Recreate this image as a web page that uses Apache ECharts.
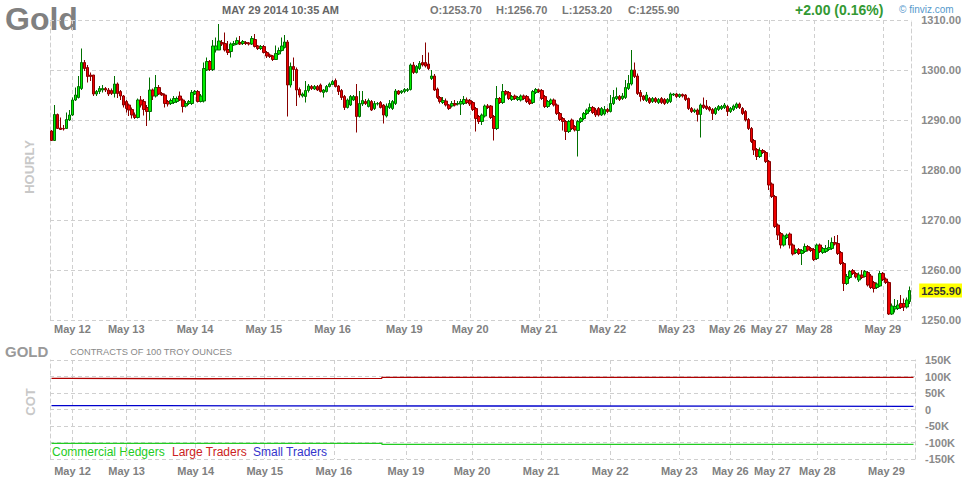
<!DOCTYPE html>
<html><head><meta charset="utf-8">
<script src="https://cdn.jsdelivr.net/npm/echarts@6/dist/echarts.min.js"></script>
<style>html,body{margin:0;padding:0;background:#fff}#c{width:964px;height:480px}</style>
</head><body><div id="c"></div>
<script>
// ---- data ----
const dayLabels = ['May 12','May 13','May 14','May 15','May 16','May 19','May 20','May 21','May 22','May 23','May 26','May 27','May 28','May 29'];
const dayIndex  = [7,25,48,71,94,118,140,163,186,209,226,240,255,278];
const priceAxis = {min:1250, max:1310, step:10};
const cotAxis = {min:-150, max:150, step:50};
// hourly candles: [open, close, low, high]
const ohlc = [
[1287.8,1285.9,1285.8,1288.0],[1285.9,1291.1,1285.9,1293.0],[1291.1,1288.3,1288.2,1291.3],[1288.4,1288.1,1288.0,1290.5],[1288.3,1288.2,1287.9,1289.0],[1288.3,1290.1,1288.2,1291.5],[1290.0,1291.0,1289.8,1292.0],[1291.0,1294.0,1290.8,1294.5],[1294.0,1295.0,1293.8,1296.5],[1294.5,1296.7,1294.3,1298.8],
[1296.3,1301.5,1296.0,1304.3],[1301.5,1300.3,1299.8,1302.0],[1300.5,1298.7,1297.5,1301.0],[1299.0,1298.7,1297.8,1299.5],[1299.0,1295.2,1294.8,1299.0],[1295.2,1295.7,1294.8,1296.0],[1295.7,1296.3,1295.2,1296.8],[1296.0,1296.3,1295.5,1297.0],[1296.3,1296.0,1295.6,1296.6],[1296.0,1295.2,1294.8,1296.4],
[1295.9,1295.3,1295.0,1296.3],[1295.3,1297.2,1294.5,1298.8],[1297.2,1295.3,1294.4,1297.5],[1295.7,1294.8,1294.0,1296.0],[1294.8,1293.0,1292.5,1295.0],[1293.7,1292.3,1291.5,1294.0],[1293.0,1292.0,1290.8,1293.3],[1292.1,1291.0,1290.3,1292.5],[1291.0,1290.5,1290.2,1291.5],[1290.5,1294.0,1290.3,1294.3],
[1294.0,1293.0,1292.5,1294.8],[1293.7,1292.1,1290.9,1294.2],[1292.5,1291.7,1288.8,1293.0],[1291.7,1296.0,1289.9,1298.5],[1296.0,1294.8,1294.0,1296.3],[1294.8,1296.5,1294.5,1299.0],[1296.5,1295.2,1295.0,1297.0],[1295.3,1295.0,1294.8,1295.6],[1295.0,1293.3,1292.5,1295.3],[1293.7,1293.2,1292.7,1294.0],
[1293.3,1293.9,1293.0,1294.3],[1293.5,1294.3,1293.2,1294.8],[1293.7,1294.3,1293.4,1294.7],[1294.8,1294.0,1293.8,1295.7],[1294.0,1292.7,1291.5,1294.3],[1292.8,1293.3,1292.5,1293.8],[1293.3,1293.7,1293.0,1294.0],[1293.3,1295.5,1293.0,1296.0],[1295.2,1295.7,1295.0,1296.0],[1295.7,1293.7,1293.5,1296.0],
[1293.7,1294.8,1293.5,1295.2],[1293.8,1300.3,1293.5,1301.5],[1300.0,1301.7,1299.8,1302.5],[1301.7,1300.1,1299.8,1302.0],[1300.1,1304.8,1299.8,1306.0],[1304.0,1304.8,1303.5,1306.5],[1304.0,1305.8,1304.0,1309.2],[1305.5,1305.2,1304.8,1306.0],[1305.3,1304.0,1303.7,1307.5],[1304.1,1303.5,1303.0,1305.8],
[1303.7,1305.2,1302.5,1305.5],[1305.0,1305.3,1304.8,1305.8],[1305.2,1305.9,1305.0,1306.5],[1305.5,1305.2,1305.0,1306.8],[1305.3,1305.7,1305.0,1306.0],[1305.5,1305.3,1305.0,1305.8],[1305.4,1305.2,1304.9,1305.6],[1305.2,1306.3,1305.0,1306.8],[1306.1,1304.7,1304.5,1307.2],[1304.8,1304.3,1304.0,1305.0],
[1304.3,1304.7,1304.0,1305.0],[1304.7,1303.5,1303.3,1305.0],[1303.5,1302.8,1302.4,1303.8],[1303.0,1302.7,1302.4,1303.3],[1302.8,1302.1,1301.8,1303.0],[1302.1,1303.3,1302.0,1304.9],[1303.2,1303.9,1303.0,1304.5],[1303.9,1304.8,1303.7,1306.5],[1304.5,1305.6,1304.3,1307.0],[1305.6,1297.0,1290.7,1306.0],
[1297.0,1300.7,1296.5,1301.5],[1300.7,1300.1,1297.8,1302.5],[1300.1,1296.0,1292.8,1300.5],[1296.1,1295.0,1294.5,1296.5],[1294.8,1295.2,1294.5,1295.5],[1294.7,1295.9,1293.5,1297.8],[1295.9,1296.8,1295.5,1297.2],[1296.7,1296.3,1296.0,1297.0],[1296.2,1296.7,1296.0,1297.0],[1296.7,1296.0,1295.8,1297.0],
[1297.0,1295.7,1295.5,1297.3],[1295.5,1296.0,1294.5,1296.2],[1295.7,1296.7,1295.5,1297.0],[1296.7,1297.2,1296.5,1297.5],[1297.1,1297.7,1297.0,1298.0],[1297.9,1296.7,1296.5,1298.3],[1296.8,1295.7,1295.0,1297.0],[1295.9,1294.5,1294.0,1296.2],[1294.7,1292.5,1292.0,1295.0],[1292.5,1294.0,1292.3,1294.3],
[1293.0,1294.7,1292.8,1295.0],[1294.0,1294.7,1293.8,1295.0],[1294.7,1290.7,1287.5,1297.2],[1290.7,1293.3,1290.5,1295.8],[1293.2,1293.9,1292.8,1295.8],[1293.7,1293.3,1293.0,1294.2],[1292.7,1293.9,1292.5,1294.3],[1293.7,1292.0,1291.8,1294.0],[1292.3,1293.3,1292.0,1293.8],[1293.2,1293.3,1292.9,1293.6],
[1293.5,1292.5,1292.3,1293.8],[1293.0,1291.0,1289.3,1293.2],[1290.8,1292.8,1290.5,1293.3],[1292.5,1293.3,1292.2,1294.0],[1292.3,1293.7,1292.0,1294.0],[1293.3,1295.8,1293.0,1296.2],[1295.8,1295.2,1295.0,1296.0],[1295.5,1295.8,1295.2,1296.0],[1295.7,1296.1,1295.4,1296.4],[1295.9,1296.1,1295.6,1296.4],
[1296.1,1301.0,1295.9,1301.3],[1301.0,1299.5,1299.2,1301.6],[1299.5,1300.7,1299.3,1301.0],[1300.3,1301.3,1300.0,1301.8],[1301.5,1301.0,1300.7,1303.0],[1301.5,1300.8,1300.5,1305.5],[1301.2,1300.3,1300.0,1303.5],[1298.3,1298.8,1298.0,1300.0],[1298.8,1296.0,1295.8,1299.2],[1296.2,1294.5,1294.2,1296.5],
[1294.5,1293.7,1293.3,1294.8],[1293.5,1293.9,1293.2,1294.6],[1293.8,1293.0,1292.7,1294.3],[1293.0,1292.3,1292.0,1293.2],[1292.8,1293.3,1292.5,1293.8],[1293.3,1293.0,1292.7,1294.0],[1293.2,1293.3,1292.9,1293.8],[1293.2,1293.7,1291.0,1294.2],[1293.3,1294.1,1293.0,1294.8],[1294.0,1293.5,1293.2,1294.5],
[1293.9,1293.2,1292.8,1294.2],[1293.5,1292.1,1291.8,1293.8],[1292.3,1290.3,1287.7,1292.6],[1290.7,1289.7,1289.2,1291.0],[1289.7,1291.0,1289.0,1291.3],[1290.8,1292.8,1290.5,1293.1],[1292.8,1292.5,1292.2,1293.2],[1292.8,1290.5,1290.2,1293.0],[1290.7,1288.3,1285.9,1291.0],[1288.3,1294.3,1288.0,1296.8],
[1294.3,1293.5,1293.2,1294.6],[1293.5,1295.7,1293.2,1297.2],[1295.7,1295.2,1294.9,1296.0],[1295.5,1294.3,1294.0,1295.8],[1294.1,1294.7,1293.8,1295.0],[1294.8,1294.3,1294.0,1295.1],[1294.1,1294.5,1293.8,1294.8],[1294.0,1294.8,1293.7,1295.1],[1294.8,1294.3,1294.0,1295.1],[1294.7,1293.7,1293.4,1295.0],
[1294.0,1293.3,1293.0,1294.3],[1293.5,1295.7,1293.2,1296.0],[1295.5,1296.1,1295.2,1296.4],[1296.0,1295.7,1295.4,1296.3],[1295.9,1294.3,1294.0,1296.2],[1294.7,1292.7,1292.4,1295.0],[1292.7,1293.7,1292.4,1294.0],[1293.3,1294.0,1293.0,1294.3],[1294.0,1293.0,1292.7,1294.3],[1293.0,1291.3,1291.0,1293.3],
[1291.3,1290.1,1289.8,1291.6],[1290.3,1289.7,1287.9,1290.6],[1289.7,1287.7,1286.0,1290.0],[1287.7,1289.7,1287.4,1290.0],[1290.0,1288.3,1288.0,1290.3],[1288.7,1288.0,1287.7,1289.0],[1287.9,1289.7,1282.7,1290.0],[1289.7,1290.3,1289.4,1290.6],[1290.3,1291.3,1290.0,1291.6],[1291.3,1292.0,1291.0,1292.3],
[1291.9,1292.5,1291.6,1293.3],[1292.5,1291.5,1291.2,1292.8],[1292.0,1291.0,1290.6,1292.4],[1292.3,1291.0,1290.7,1292.6],[1291.0,1292.3,1290.8,1292.6],[1291.2,1292.1,1290.9,1292.8],[1292.1,1291.7,1291.4,1292.4],[1291.7,1293.3,1291.5,1295.0],[1293.3,1294.5,1293.0,1296.0],[1294.3,1294.7,1294.0,1296.5],
[1294.7,1294.1,1293.8,1295.0],[1294.3,1294.8,1294.0,1295.4],[1294.5,1296.5,1294.2,1298.0],[1296.3,1297.3,1296.0,1299.0],[1297.2,1300.0,1296.9,1304.0],[1300.0,1298.7,1298.4,1301.5],[1298.8,1295.3,1295.0,1299.3],[1295.5,1294.7,1293.7,1296.0],[1294.8,1294.1,1293.8,1295.0],[1293.9,1295.0,1293.6,1295.6],
[1294.3,1293.5,1293.2,1294.6],[1293.7,1294.3,1293.4,1294.6],[1294.3,1293.7,1293.4,1294.6],[1293.5,1294.1,1293.2,1294.4],[1294.3,1293.5,1293.2,1294.6],[1294.1,1293.3,1293.0,1294.4],[1293.5,1294.1,1293.2,1294.4],[1293.7,1295.2,1293.4,1295.5],[1295.0,1295.2,1294.8,1295.4],[1295.2,1294.7,1294.4,1295.4],
[1294.7,1295.1,1294.4,1295.3],[1295.1,1294.8,1294.5,1295.3],[1295.0,1294.1,1293.8,1295.2],[1294.3,1292.3,1292.0,1294.5],[1292.3,1291.7,1291.4,1292.6],[1291.7,1292.0,1291.4,1292.3],[1292.0,1291.1,1289.7,1292.3],[1291.1,1293.0,1286.5,1293.3],[1293.0,1292.5,1292.2,1294.5],[1292.8,1292.3,1292.0,1294.0],
[1292.5,1292.0,1291.7,1292.8],[1292.1,1291.3,1290.0,1292.4],[1291.3,1292.3,1291.0,1292.6],[1292.1,1292.7,1291.8,1293.0],[1292.3,1292.7,1292.0,1293.0],[1292.5,1293.0,1292.2,1293.4],[1292.7,1291.7,1290.8,1293.0],[1291.7,1292.3,1291.4,1292.6],[1292.1,1292.8,1291.8,1293.1],[1292.5,1293.2,1292.2,1293.5],
[1293.2,1292.5,1292.2,1293.5],[1292.3,1291.3,1291.0,1292.6],[1291.7,1290.0,1289.7,1292.0],[1290.1,1288.3,1288.0,1290.4],[1288.3,1285.7,1285.4,1288.6],[1285.9,1284.0,1283.0,1286.2],[1284.1,1282.7,1282.0,1284.4],[1282.7,1283.9,1282.4,1284.5],[1283.9,1283.5,1283.2,1284.2],[1283.5,1281.7,1281.4,1283.8],
[1281.7,1277.0,1276.0,1282.0],[1277.2,1274.7,1274.4,1277.5],[1274.7,1268.7,1268.4,1275.0],[1269.0,1267.0,1266.0,1269.3],[1267.3,1265.0,1264.3,1267.6],[1265.0,1266.8,1264.7,1267.1],[1266.5,1267.0,1266.2,1267.3],[1267.2,1265.0,1264.3,1267.5],[1265.0,1263.2,1262.9,1265.3],[1263.5,1264.0,1263.2,1264.3],
[1264.1,1263.3,1263.0,1264.4],[1263.3,1263.9,1261.0,1264.2],[1263.7,1264.7,1263.4,1265.3],[1264.7,1264.0,1263.7,1265.0],[1264.3,1263.9,1263.6,1264.6],[1264.1,1262.1,1261.8,1264.4],[1262.3,1265.0,1262.0,1265.3],[1265.0,1263.7,1263.4,1265.3],[1263.5,1264.3,1263.2,1264.6],[1263.7,1264.3,1263.4,1265.0],
[1264.1,1264.5,1263.8,1266.0],[1264.3,1265.5,1264.0,1266.5],[1265.5,1265.2,1264.9,1266.8],[1265.3,1263.3,1263.0,1267.0],[1263.5,1261.3,1261.0,1263.8],[1261.3,1257.3,1255.8,1261.6],[1257.3,1258.7,1257.0,1259.2],[1258.5,1259.7,1258.2,1260.0],[1259.9,1259.3,1259.0,1260.2],[1259.3,1258.6,1258.3,1259.6],
[1258.0,1259.0,1257.6,1259.5],[1259.0,1258.5,1258.2,1260.0],[1258.7,1259.7,1258.5,1260.0],[1259.5,1257.0,1256.7,1259.8],[1258.8,1256.5,1256.2,1259.2],[1257.5,1256.3,1255.5,1257.8],[1256.5,1257.2,1256.2,1257.5],[1256.8,1259.3,1256.6,1259.8],[1259.3,1258.1,1257.8,1259.6],[1258.2,1257.5,1257.2,1258.5],
[1257.5,1251.2,1251.0,1257.7],[1251.2,1252.8,1251.0,1253.3],[1252.2,1252.7,1251.5,1254.2],[1252.3,1253.0,1252.0,1254.0],[1253.3,1252.5,1252.2,1255.0],[1253.3,1252.6,1251.8,1254.3],[1252.6,1254.0,1252.3,1254.5],[1253.7,1255.9,1253.2,1256.7]
];
// COT net positions (thousands of contracts), [bar index where value takes effect, value]
const commercialHedgers = [[0,-102.4],[110,-105.5],[287,-105.5]];
const largeTraders      = [[0,94.5],[5,93.2],[51,94.5],[110,97.6],[287,97.6]];
const smallTraders      = [[0,11.5],[36,9.7],[287,9.7]];
const headerTexts = {date:'MAY 29 2014 10:35 AM', o:'O:1253.70', h:'H:1256.70', l:'L:1253.20', c:'C:1255.90', chg:'+2.00 (0.16%)'};

// ---- chart ----
const FONT = '"Liberation Sans", Arial, sans-serif';
const cats = ohlc.map((d, i) => i);
const isDay = (i) => dayIndex.indexOf(i) >= 0;
const dayFmt = (v, i) => { const k = dayIndex.indexOf(Number(v)); return k >= 0 ? dayLabels[k] : ''; };
const gridLine = {color:'#cfcfcf', width:1, type:[4,3]};
const lastClose = ohlc[ohlc.length - 1][1];

function xAx(gi, margin) {
  return {type:'category', gridIndex:gi, data:cats, boundaryGap:true,
    axisLine:{show:false}, axisTick:{show:false},
    axisLabel:{interval:isDay, formatter:dayFmt, color:'#808080', fontWeight:'bold', fontSize:11, margin:margin, fontFamily:FONT},
    splitLine:{show:true, interval:isDay, alignWithLabel:true, lineStyle:gridLine}};
}
function edgeAx(gi, a) {
  return {type:'value', gridIndex:gi, position:'left', min:a.min, max:a.max, interval:a.step,
    axisLine:{show:true, lineStyle:gridLine}, axisTick:{show:false}, axisLabel:{show:false}, splitLine:{show:false}};
}
function txt(x, y, text, font, fill, extra) {
  return Object.assign({type:'text', x:x, y:y, silent:true,
    style:{text:text, font:font, fill:fill, textAlign:'left', textVerticalAlign:'middle', align:'left', verticalAlign:'middle'}}, extra || {});
}

const chart = echarts.init(document.getElementById('c'), null, {renderer:'svg', width:964, height:480});
chart.setOption({
  animation:false,
  backgroundColor:'#ffffff',
  textStyle:{fontFamily:FONT},
  grid:[{left:50, right:49, top:20, height:300}, {left:50, right:49, top:360, height:99}],
  xAxis:[xAx(0, 3), xAx(1, 6)],
  yAxis:[
    {type:'value', gridIndex:0, position:'right', min:priceAxis.min, max:priceAxis.max, interval:priceAxis.step,
     axisLine:{show:true, lineStyle:gridLine}, axisTick:{show:false},
     axisLabel:{formatter:(v)=>v.toFixed(2), color:'#8a8a8a', fontWeight:'bold', fontSize:11, margin:10, fontFamily:FONT},
     splitLine:{show:true, lineStyle:gridLine}},
    edgeAx(0, priceAxis),
    {type:'value', gridIndex:1, position:'right', min:cotAxis.min, max:cotAxis.max, interval:cotAxis.step,
     axisLine:{show:true, lineStyle:gridLine}, axisTick:{show:false},
     axisLabel:{formatter:(v)=> v === 0 ? '0' : v + 'K', color:'#8a8a8a', fontWeight:'bold', fontSize:11, margin:10, fontFamily:FONT},
     splitLine:{show:true, lineStyle:gridLine}},
    edgeAx(1, cotAxis)
  ],
  series:[
    {type:'candlestick', name:'Gold', xAxisIndex:0, yAxisIndex:0, data:ohlc, barWidth:3,
     itemStyle:{color:'#00ee00', color0:'#ee0000', borderColor:'#007000', borderColor0:'#880000', borderWidth:1},
     markLine:{silent:true, symbol:'none', animation:false,
       lineStyle:{color:'rgba(0,0,0,0)', width:0, type:'solid'},
       label:{show:true, position:'end', distance:8, formatter:lastClose.toFixed(2), backgroundColor:'#ffff00',
              color:'#333333', fontWeight:'bold', fontSize:11, padding:[2,1,1,2], fontFamily:FONT},
       emphasis:{disabled:true},
       data:[{yAxis:lastClose}]}},
    {type:'line', name:'Commercial Hedgers', xAxisIndex:1, yAxisIndex:2, data:commercialHedgers, step:'end',
     showSymbol:false, lineStyle:{color:'#22cc22', width:1.3}, itemStyle:{color:'#22cc22'}},
    {type:'line', name:'Large Traders', xAxisIndex:1, yAxisIndex:2, data:largeTraders, step:'end',
     showSymbol:false, lineStyle:{color:'#b00000', width:1.3}, itemStyle:{color:'#b00000'}},
    {type:'line', name:'Small Traders', xAxisIndex:1, yAxisIndex:2, data:smallTraders, step:'end',
     showSymbol:false, lineStyle:{color:'#0000cc', width:1.3}, itemStyle:{color:'#0000cc'}}
  ],
  graphic:[
    txt(5, 19, 'Gold', 'bold 32px ' + FONT, '#808080'),
    txt(222, 10, headerTexts.date, 'bold 11px ' + FONT, '#666666'),
    txt(430, 10, headerTexts.o, 'bold 11px ' + FONT, '#777777'),
    txt(496, 10, headerTexts.h, 'bold 11px ' + FONT, '#777777'),
    txt(562, 10, headerTexts.l, 'bold 11px ' + FONT, '#777777'),
    txt(628, 10, headerTexts.c, 'bold 11px ' + FONT, '#777777'),
    txt(795, 10, headerTexts.chg, 'bold 14px ' + FONT, '#339933'),
    txt(899, 9, '\u00a9 finviz.com', '10px ' + FONT, '#5599cc'),
    {type:'text', x:29, y:167, rotation:Math.PI/2, silent:true,
     style:{text:'HOURLY', font:'bold 13px ' + FONT, fill:'#c8c8c8', textAlign:'center', textVerticalAlign:'middle', align:'center', verticalAlign:'middle'}},
    {type:'text', x:30, y:402, rotation:Math.PI/2, silent:true,
     style:{text:'COT', font:'bold 13px ' + FONT, fill:'#c8c8c8', textAlign:'center', textVerticalAlign:'middle', align:'center', verticalAlign:'middle'}},
    txt(5, 351, 'GOLD', 'bold 15px ' + FONT, '#999999'),
    txt(70, 352, 'CONTRACTS OF 100 TROY OUNCES', '9.3px ' + FONT, '#888888'),
    txt(52, 452, 'Commercial Hedgers', '12px ' + FONT, '#22cc22'),
    txt(172, 452, 'Large Traders', '12px ' + FONT, '#cc2222'),
    txt(253, 452, 'Small Traders', '12px ' + FONT, '#3333cc')
  ]
});
</script>
</body></html>
